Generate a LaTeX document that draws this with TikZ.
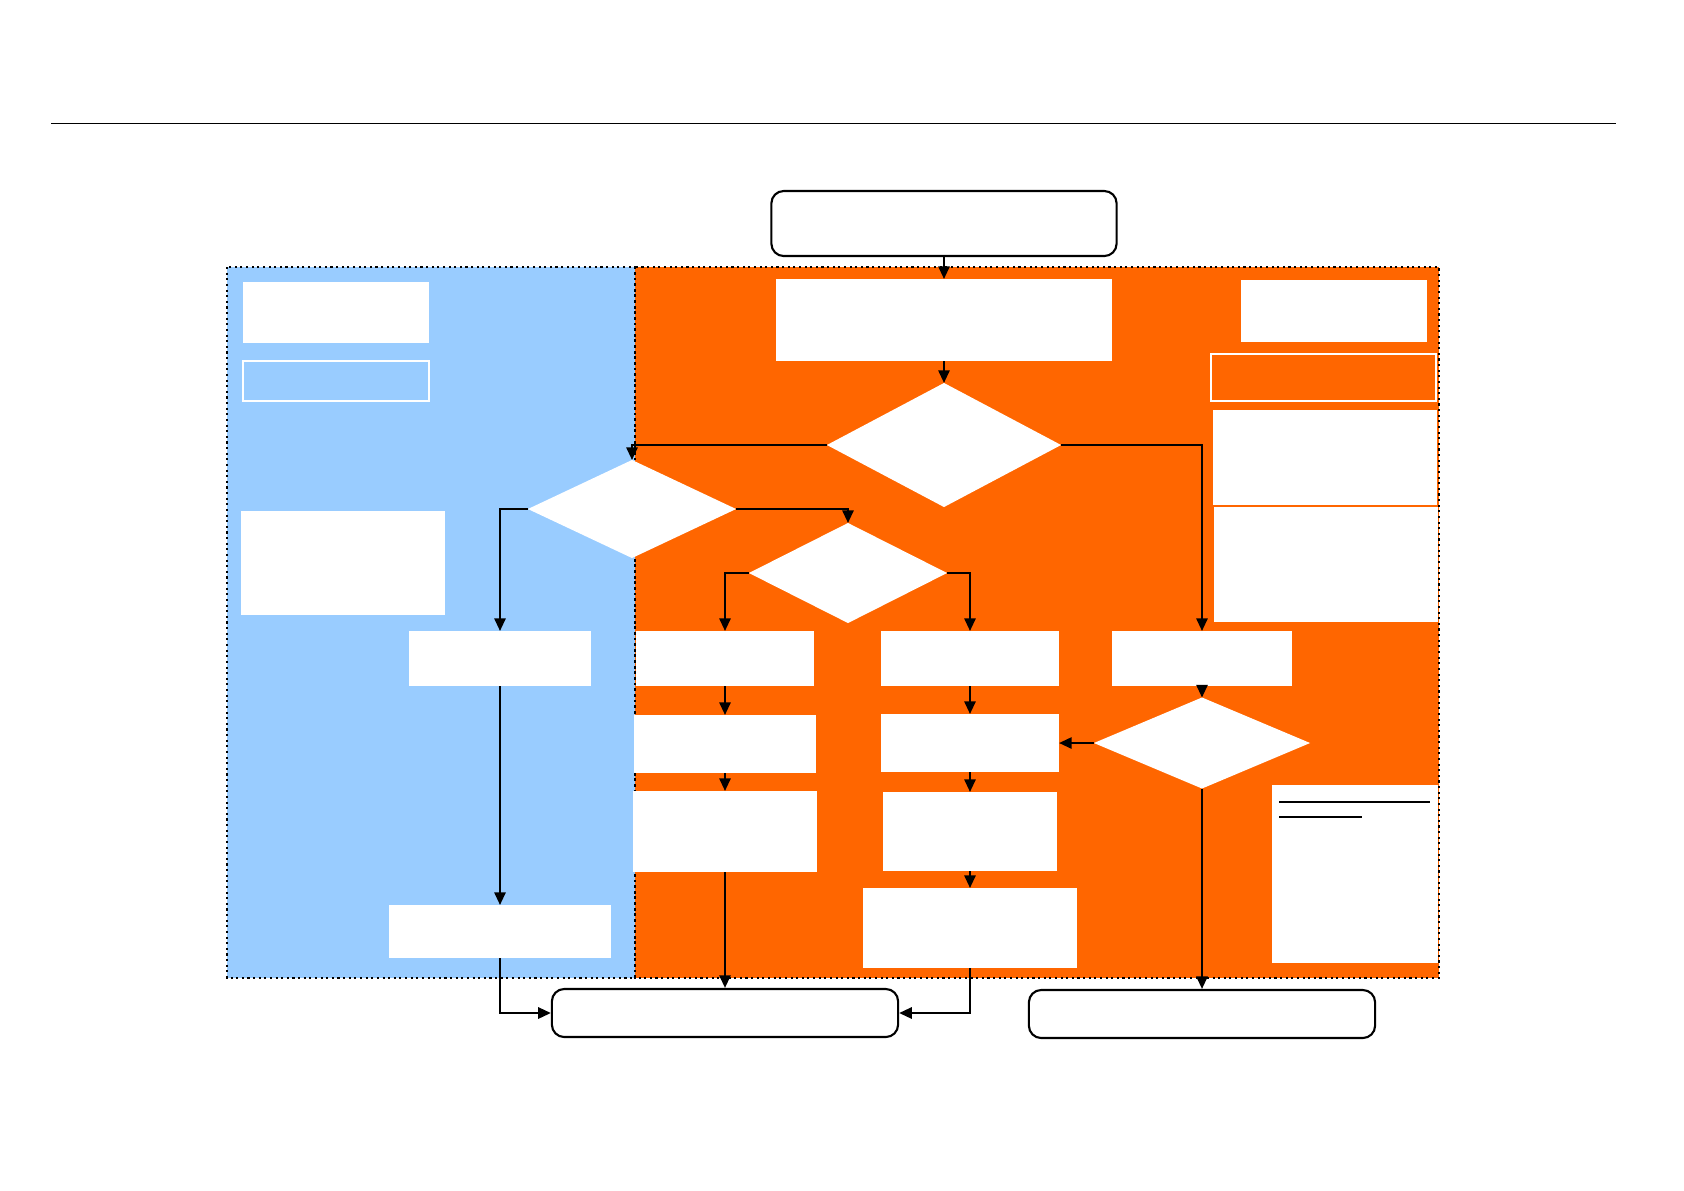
\documentclass[tikz,border=0pt]{standalone}
\usepackage{tikz}
\usetikzlibrary{positioning, shapes.geometric, arrows.meta}

\definecolor{laneblue}{HTML}{99CCFF}
\definecolor{laneorange}{HTML}{FF6600}

\begin{document}
\begin{tikzpicture}[
        x=0.01cm, y=-0.01cm,
        >={Triangle[length=3.6pt, width=3.2pt]},
        zone/.style={draw=black, densely dotted, line width=0.6pt},
        blk/.style={
            fill=white,
            inner sep=0pt,
            outer sep=0pt
        },
        hollow/.style={draw=white, line width=0.6pt, inner sep=0pt},
        dec/.style={diamond, fill=white, inner sep=0pt, outer sep=0pt},
        term/.style={
            draw,
            fill=white,
            rounded corners=3.5pt,
            line width=0.6pt,
            inner sep=0pt
        },
        flow/.style={->, line width=0.6pt}
    ]
    \useasboundingbox (0,0) rectangle (1684,1190);

    % header rule
    \draw[line width=0.45pt] (51,123.5) -- (1616,123.5);

    % lanes
    \fill[laneblue] (227,267) rectangle (635,978);
    \fill[laneorange] (635,267) rectangle (1439,978);
    \draw[zone] (227,267) rectangle (635,978);
    \draw[zone] (635,267) rectangle (1439,978);

    \node[term, minimum width=3.45cm, minimum height=0.65cm] (start) at (944,223.5) {};
    \node[blk, minimum width=3.35cm, minimum height=0.82cm] (boxA) at (944,320) {};

    % right side notes
    \node[blk, minimum width=1.86cm, minimum height=0.62cm] (topR) at (1334,311) {};
    \node[hollow, minimum width=2.25cm, minimum height=0.47cm] (outR) at (1323.5,377.5) {};
    \node[blk, minimum width=2.24cm, minimum height=0.95cm] (sideA) at (1325,457.5) {};
    \node[blk, minimum width=2.24cm, minimum height=1.15cm] (sideB) at (1326,564.5) {};
    \node[blk, minimum width=1.66cm, minimum height=1.78cm] (noteR) at (1355,874) {};
    \draw[line width=0.6pt] (1279,802) -- (1430,802);
    \draw[line width=0.6pt] (1279,817) -- (1362,817);

    % left side notes
    \node[blk, minimum width=1.86cm, minimum height=0.61cm] (topL) at (336,312.5) {};
    \node[hollow, minimum width=1.86cm, minimum height=0.40cm] (outL) at (336,381) {};
    \node[blk, minimum width=2.04cm, minimum height=1.04cm] (bigL) at (343,563) {};

    % decisions
    \node[dec, minimum width=2.34cm, minimum height=1.24cm] (d1) at (944,445) {};
    \node[dec, minimum width=2.08cm, minimum height=0.98cm] (d2) at (632,509) {};
    \node[dec, minimum width=1.98cm, minimum height=1.00cm] (d3) at (848,573) {};

    % steps
    \node[blk, minimum width=1.81cm, minimum height=0.55cm] (midL) at (500,658.5) {};
    \node[blk, minimum width=2.21cm, minimum height=0.53cm] (lowL) at (500,931.5) {};
    \node[blk, minimum width=1.78cm, minimum height=0.55cm] (c1a) at (725,658.5) {};
    \node[blk, minimum width=1.81cm, minimum height=0.58cm] (c1b) at (725,744) {};
    \node[blk, minimum width=1.83cm, minimum height=0.81cm] (c1c) at (725,831.5) {};
    \node[blk, minimum width=1.78cm, minimum height=0.55cm] (c2a) at (970,658.5) {};
    \node[blk, minimum width=1.78cm, minimum height=0.58cm] (c2b) at (970,743) {};
    \node[blk, minimum width=1.73cm, minimum height=0.79cm] (c2c) at (970,831.5) {};
    \node[blk, minimum width=2.13cm, minimum height=0.80cm] (c2d) at (970,928) {};
    \node[blk, minimum width=1.79cm, minimum height=0.55cm] (c3a) at (1202,658.5) {};
    \node[dec, minimum width=2.16cm, minimum height=0.91cm] (d4) at (1202,743) {};

    % ends
    \node[term, minimum width=3.46cm, minimum height=0.48cm] (endL) at (725,1013) {};
    \node[term, minimum width=3.46cm, minimum height=0.48cm] (endR) at (1202,1014) {};

    \draw[flow] (start) -- (boxA);
    \draw[flow] (boxA) -- (d1);
    \draw[flow] (d1.west) -| (d2.north);
    \draw[flow] (d1.east) -| (c3a.north);
    \draw[flow] (d2.west) -| (midL.north);
    \draw[flow] (d2.east) -| (d3.north);
    \draw[flow] (d3.west) -| (c1a.north);
    \draw[flow] (d3.east) -| (c2a.north);
    \draw[flow] (c1a) -- (c1b);
    \draw[flow] (c1b) -- (c1c);
    \draw[flow] (c1c) -- (endL);
    \draw[flow] (c2a) -- (c2b);
    \draw[flow] (c2b) -- (c2c);
    \draw[flow] (c2c) -- (c2d);
    \draw[flow] (c2d.south) |- (endL.east);
    \draw[flow] (midL) -- (lowL);
    \draw[flow] (lowL.south) |- (endL.west);
    \draw[flow] (c3a) -- (d4);
    \draw[flow] (d4.west) -- (c2b.east);
    \draw[flow] (d4) -- (endR);
\end{tikzpicture}
\end{document}
